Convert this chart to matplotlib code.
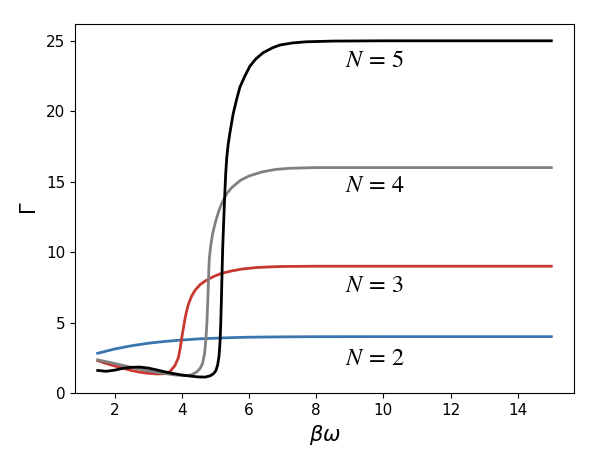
import matplotlib
matplotlib.use("Agg")
import matplotlib.pyplot as plt

# values
x_n2 = [1.5, 2.0, 2.5, 3.0, 3.5, 4.0, 4.5, 5.0, 5.5, 6.0, 7.0, 8.0, 10.0, 15.0]
g_n2 = [2.82, 3.12, 3.35, 3.53, 3.66, 3.76, 3.84, 3.89, 3.93, 3.96, 3.985, 3.995, 4.0, 4.0]

x_n3 = [1.5, 1.75, 2.0, 2.25, 2.5, 2.75, 3.0, 3.25, 3.5, 3.65, 3.8, 3.9, 3.95, 4.0,
        4.05, 4.1, 4.15, 4.2, 4.3, 4.4, 4.55, 4.7, 4.85, 5.0, 5.2, 5.5, 5.8, 6.2,
        6.6, 7.0, 8.0, 10.0, 15.0]
g_n3 = [2.3, 2.1, 1.92, 1.76, 1.6, 1.48, 1.4, 1.35, 1.37, 1.52, 1.95, 2.5, 3.1, 3.9,
        4.6, 5.3, 5.85, 6.3, 6.9, 7.3, 7.7, 7.95, 8.15, 8.32, 8.5, 8.67, 8.8, 8.9,
        8.95, 8.98, 9.0, 9.0, 9.0]

x_n4 = [1.5, 2.0, 2.5, 3.0, 3.5, 3.8, 4.1, 4.3, 4.45, 4.55, 4.62, 4.68, 4.72, 4.75,
        4.78, 4.8, 4.82, 4.86, 4.92, 5.0, 5.1, 5.2, 5.35, 5.5, 5.75, 6.0, 6.4, 6.8,
        7.2, 8.0, 10.0, 15.0]
g_n4 = [2.35, 2.1, 1.82, 1.57, 1.38, 1.28, 1.22, 1.3, 1.5, 1.75, 2.1, 2.8, 3.8, 5.0,
        6.8, 8.3, 9.5, 10.4, 11.3, 12.1, 12.9, 13.5, 14.2, 14.6, 15.1, 15.4, 15.7, 15.87,
        15.95, 16.0, 16.0, 16.0]

x_n5 = [1.5, 1.75, 2.0, 2.25, 2.5, 2.75, 3.0, 3.25, 3.5, 3.75, 4.0, 4.25, 4.5, 4.7,
        4.85, 4.95, 5.02, 5.07, 5.11, 5.14, 5.16, 5.18, 5.2, 5.22, 5.24, 5.26, 5.285,
        5.31, 5.34, 5.38, 5.43, 5.48, 5.53, 5.63, 5.73, 5.88, 6.03, 6.2, 6.42, 6.7, 6.92, 7.3,
        7.7, 8.5, 10.0, 15.0]
g_n5 = [1.6, 1.54, 1.62, 1.75, 1.82, 1.84, 1.77, 1.64, 1.5, 1.38, 1.28, 1.2, 1.14, 1.13,
        1.22, 1.38, 1.6, 2.0, 2.6, 3.6, 4.8, 6.5, 8.5, 10.3, 11.6, 12.8, 14.3,
        15.6, 16.7, 17.6, 18.4, 19.1, 19.8, 20.8, 21.7, 22.5, 23.2, 23.7, 24.15, 24.5, 24.7, 24.85,
        24.93, 24.98, 25.0, 25.0]

labels = [r'$N\,=\,5$', r'$N\,=\,4$', r'$N\,=\,3$', r'$N\,=\,2$']
label_y = [23.15, 14.3, 7.15, 2.0]

fig = plt.figure(figsize=(6.08, 4.76), dpi=100)
ax = fig.add_axes([0.1234, 0.1744, 0.8207, 0.7752])

ax.plot(x_n2, g_n2, color='#3a75b0', lw=2)
ax.plot(x_n3, g_n3, color='#c8382f', lw=2)
ax.plot(x_n4, g_n4, color='#808080', lw=2)
ax.plot(x_n5, g_n5, color='black', lw=2)

for lab, yy in zip(labels, label_y):
    ax.text(8.86, yy, lab, fontsize=17.5, math_fontfamily='stix')

ax.set_ylim(bottom=0)
ax.set_xlabel(r'$\beta\omega$', fontsize=15)
ax.set_ylabel(r'$\Gamma$', fontsize=15)
ax.tick_params(labelsize=11)

fig.savefig('out.png', dpi=100)
